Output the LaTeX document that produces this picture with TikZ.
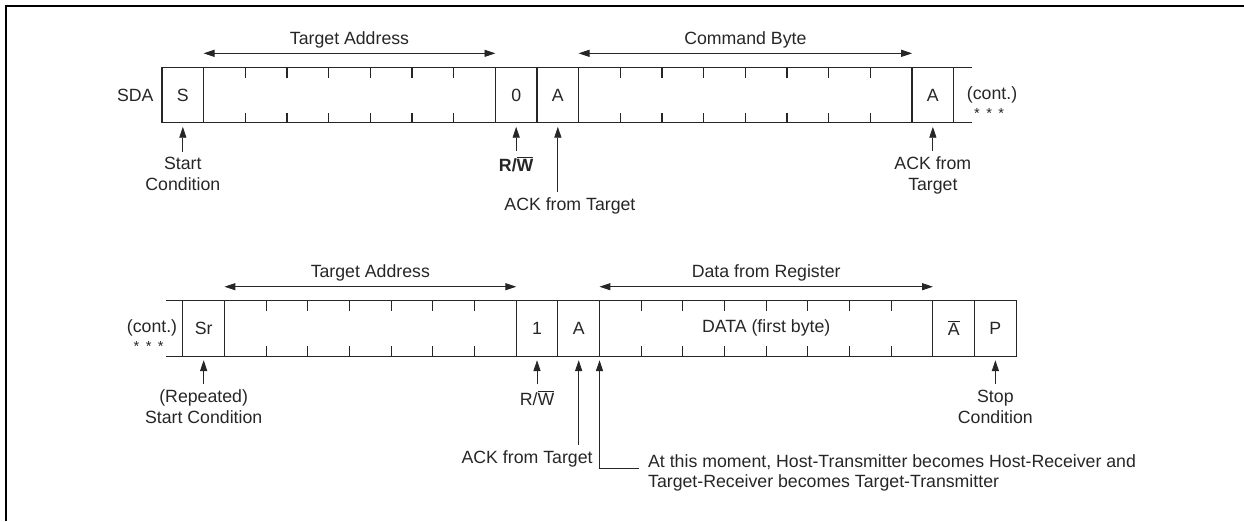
\documentclass[tikz,border=0pt]{standalone}
\usepackage{fontspec}
\setmainfont{Liberation Sans}
\usetikzlibrary{arrows.meta}
\definecolor{ink}{gray}{0.15}

\begin{document}
\begin{tikzpicture}[>={Triangle[length=2.6mm,width=1.7mm]},
    every node/.style={font=\fontsize{12.1}{14.2}\selectfont, text=ink},
    field/.style={draw=ink, line width=0.75pt},
    pointer/.style={->, draw=ink, line width=0.55pt},
    span/.style={<->, draw=ink, line width=0.55pt},
    lbl/.style={align=center, inner sep=0.13cm},
    stars/.style={font=\fontsize{10}{10}\selectfont}]
  \useasboundingbox (-3.888,-10.879) rectangle (25.967,1.625);
  \draw[line width=1.7pt] (-3.739,-10.879) |- (25.967,1.476);

  % write frame
  \draw[field] (19.43,0) -- (0,0) -- (0,-1.32) -- (19.43,-1.32);
  \foreach \x in {1,8,9,10,18,19}
    \draw[field] (\x,0) -- (\x,-1.32);
  \foreach \x in {2,3,4,5,6,7,11,12,13,14,15,16,17}
    \draw[field] (\x,0) -- (\x,-0.24) (\x,-1.32) -- (\x,-1.08);

  \node (sda) at (-0.64,-0.66) {SDA};
  \node (s) at (0.5,-0.66) {S};
  \node (rw0) at (8.5,-0.66) {0};
  \node (ack0) at (9.5,-0.66) {A};
  \node (ack1) at (18.5,-0.66) {A};
  \node (cont1) at (19.92,-0.66) {(cont.)};
  \node[stars] (cont1s) at (19.85,-1.1) {*\hspace{4.4pt}*\hspace{4.4pt}*};

  \coordinate (ta1l) at (1,0.345);
  \coordinate (ta1r) at (8,0.345);
  \coordinate (cbl) at (10,0.345);
  \coordinate (cbr) at (18,0.345);
  \draw[span] (ta1l) -- (ta1r) node[midway, above, inner sep=3.2pt] (ta1) {Target Address};
  \draw[span] (cbl) -- (cbr) node[midway, above, inner sep=3.2pt] (cb) {Command Byte};

  \coordinate (stip) at (0.5,-1.42);
  \coordinate (rw0tip) at (8.5,-1.42);
  \coordinate (ack0tip) at (9.5,-1.42);
  \coordinate (ack1tip) at (18.5,-1.42);

  \node[lbl, anchor=north] (startlbl) at (0.5,-2.02) {Start\\Condition};
  \node[lbl, anchor=north, font=\fontsize{12.1}{14.2}\selectfont\bfseries] (rw0lbl) at (8.5,-2.0) {R/$\overline{\mbox{W}}$};
  \node[lbl, anchor=north] (ack0lbl) at (9.79,-2.98) {ACK from Target};
  \node[lbl, anchor=north] (ack1lbl) at (18.5,-2.0) {ACK from\\Target};

  \draw[pointer] (startlbl.north) -- (stip);
  \draw[pointer] (rw0lbl.north) -- (rw0tip);
  \draw[pointer] (ack0lbl.north -| ack0tip) -- (ack0tip);
  \draw[pointer] (ack1lbl.north) -- (ack1tip);

  % read frame
  \draw[field] (0.1,-5.59) -- (20.5,-5.59) -- (20.5,-6.92) -- (0.1,-6.92);
  \foreach \x in {0.5,1.5,8.5,9.5,10.5,18.5,19.5}
    \draw[field] (\x,-5.59) -- (\x,-6.92);
  \foreach \x in {2.5,3.5,4.5,5.5,6.5,7.5,11.5,12.5,13.5,14.5,15.5,16.5,17.5}
    \draw[field] (\x,-5.59) -- (\x,-5.83) (\x,-6.92) -- (\x,-6.68);

  \node (cont2) at (-0.24,-6.25) {(cont.)};
  \node[stars] (cont2s) at (-0.32,-6.69) {*\hspace{4.4pt}*\hspace{4.4pt}*};
  \node (sr) at (1,-6.255) {Sr};
  \node (rw1) at (9,-6.255) {1};
  \node (ack2) at (10,-6.255) {A};
  \node (data) at (14.5,-6.255) {DATA (first byte)};
  \node (nack) at (19,-6.255) {$\overline{\mbox{A}}$};
  \node (p) at (20,-6.255) {P};

  \coordinate (ta2l) at (1.5,-5.256);
  \coordinate (ta2r) at (8.5,-5.256);
  \coordinate (dfl) at (10.5,-5.256);
  \coordinate (dfr) at (18.5,-5.256);
  \draw[span] (ta2l) -- (ta2r) node[midway, above, inner sep=3.2pt] (ta2) {Target Address};
  \draw[span] (dfl) -- (dfr) node[midway, above, inner sep=3.2pt] (df) {Data from Register};

  \coordinate (srtip) at (1,-7.02);
  \coordinate (rw1tip) at (9,-7.02);
  \coordinate (ack2tip) at (10,-7.02);
  \coordinate (turntip) at (10.5,-7.02);
  \coordinate (ptip) at (20,-7.02);

  \node[lbl, anchor=north] (srlbl) at (1,-7.6) {(Repeated)\\Start Condition};
  \node[lbl, anchor=north] (rw1lbl) at (9,-7.6) {R/$\overline{\mbox{W}}$};
  \node[lbl, anchor=north east] (ack2lbl) at (10.47,-9.06) {ACK from Target};
  \node[align=left, anchor=west, inner xsep=0.21cm] (notelbl) at (11.45,-9.727)
    {At this moment, Host-Transmitter becomes Host-Receiver and\\Target-Receiver becomes Target-Transmitter};
  \node[lbl, anchor=north] (stoplbl) at (20,-7.6) {Stop\\Condition};

  \draw[pointer] (srlbl.north) -- (srtip);
  \draw[pointer] (rw1lbl.north) -- (rw1tip);
  \draw[pointer] (ack2lbl.north -| ack2tip) -- (ack2tip);
  \draw[pointer] ([yshift=0.1cm]notelbl.west) -| (turntip);
  \draw[pointer] (stoplbl.north) -- (ptip);
\end{tikzpicture}
\end{document}
